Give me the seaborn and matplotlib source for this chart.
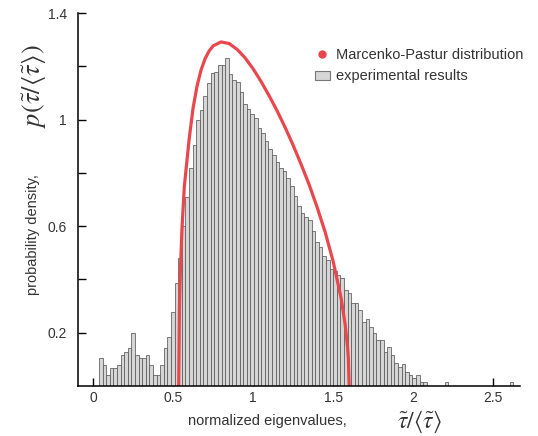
import numpy as np
import pandas as pd
import matplotlib
matplotlib.use('Agg')
import matplotlib.pyplot as plt
import seaborn as sns
from matplotlib.lines import Line2D
from matplotlib.patches import Patch

# histogram bar heights (probability density), one per bin
bin_heights = [
    0.105, 0.079, 0.041, 0.068, 0.068, 0.079, 0.117, 0.128, 0.143, 0.199,
    0.117, 0.105, 0.105, 0.117, 0.079, 0.041, 0.041, 0.079, 0.143, 0.184,
    0.278, 0.387, 0.480, 0.600, 0.710, 0.820, 0.905, 1.000, 1.037, 1.087,
    1.138, 1.177, 1.180, 1.207, 1.207, 1.233, 1.170, 1.150, 1.140, 1.105,
    1.060, 1.040, 1.020, 1.006, 0.970, 0.950, 0.918, 0.890, 0.868, 0.840,
    0.818, 0.806, 0.781, 0.750, 0.712, 0.674, 0.650, 0.636, 0.624, 0.580,
    0.542, 0.523, 0.486, 0.474, 0.440, 0.430, 0.417, 0.406, 0.361, 0.350,
    0.312, 0.312, 0.286, 0.241, 0.252, 0.222, 0.199, 0.173, 0.173, 0.128,
    0.147, 0.117, 0.085, 0.070, 0.083, 0.053, 0.041, 0.030, 0.041, 0.015,
    0.015, 0.0, 0.0, 0.0, 0.0, 0.0, 0.015, 0.0, 0.0, 0.0,
    0.0, 0.0, 0.0, 0.0, 0.0, 0.0, 0.0, 0.0, 0.0, 0.0,
    0.0, 0.0, 0.0, 0.0, 0.015,
]
first_edge = 0.0375
bin_width = 0.0225

# Marcenko-Pastur curve points
mp_x = [0.535, 0.540, 0.545, 0.555, 0.570, 0.600, 0.625, 0.650, 0.675, 0.700,
        0.725, 0.750, 0.800, 0.850, 0.900, 0.950, 1.000, 1.050, 1.100, 1.150,
        1.200, 1.250, 1.300, 1.350, 1.400, 1.450, 1.500, 1.550, 1.575, 1.590,
        1.595, 1.600]
mp_y = [0.000, 0.302, 0.422, 0.584, 0.747, 0.925, 1.044, 1.127, 1.187, 1.229,
        1.258, 1.277, 1.292, 1.286, 1.264, 1.232, 1.191, 1.143, 1.090, 1.033,
        0.971, 0.904, 0.832, 0.756, 0.671, 0.578, 0.468, 0.329, 0.231, 0.146,
        0.103, 0.000]

x_ticks = [0, 0.5, 1, 1.5, 2, 2.5]
x_tick_labels = ['0', '0.5', '1', '1.5', '2', '2.5']
y_ticks = [0.2, 0.4, 0.6, 0.8, 1.0, 1.2, 1.4]
y_tick_labels = ['0.2', '', '0.6', '', '1', '', '1.4']

legend_labels = ['Marcenko-Pastur distribution', 'experimental results']

sns.set_theme(style='ticks')
plt.rcParams['font.family'] = ['Liberation Sans', 'DejaVu Sans']
plt.rcParams['mathtext.fontset'] = 'stix'

RED = '#e8474e'
BAR = '#d6d6d6'
TXT = '#333333'

fig = plt.figure(figsize=(5.38, 4.36), dpi=100)
ax = fig.add_axes([0.145, 0.115, 0.822, 0.856])

n_bins = len(bin_heights)
centers = first_edge + bin_width * (np.arange(n_bins) + 0.5)
df = pd.DataFrame({'value': centers, 'height': bin_heights})
sns.histplot(data=df, x='value', weights='height', binwidth=bin_width,
             binrange=(first_edge, first_edge + bin_width * n_bins),
             color=BAR, edgecolor='#5a5a5a', linewidth=0.55, alpha=1, ax=ax)
sns.lineplot(x=mp_x, y=mp_y, sort=False, color=RED, linewidth=2.3, ax=ax)

ax.set_xlim(-0.094, 2.669)
ax.set_ylim(0, 1.402)
ax.set_xticks(x_ticks)
ax.set_xticklabels(x_tick_labels)
ax.set_yticks(y_ticks)
ax.set_yticklabels(y_tick_labels)
ax.set_xlabel('')
ax.set_ylabel('')
ax.tick_params(direction='in', length=5.5, width=1, color='black',
               labelsize=10, labelcolor=TXT)
ax.tick_params(axis='x', pad=4)
ax.tick_params(axis='y', pad=8)
for s in ['top', 'right']:
    ax.spines[s].set_visible(False)
for s in ['left', 'bottom']:
    ax.spines[s].set_color('black')
    ax.spines[s].set_linewidth(1.1)

handles = [
    Line2D([], [], marker='o', linestyle='none', markerfacecolor=RED,
           markeredgecolor='none', markersize=6, label=legend_labels[0]),
    Patch(facecolor=BAR, edgecolor='#777777', linewidth=0.8, label=legend_labels[1]),
]
fig.legend(handles=handles, loc='upper left', bbox_to_anchor=(315 / 538, 1 - 48 / 436),
           frameon=False, fontsize=10.5, handlelength=1.0, handleheight=0.6,
           handletextpad=0.45, labelspacing=0.5, borderaxespad=0, borderpad=0,
           labelcolor=TXT)

fig.text(188 / 538, 1 - 421 / 436, 'normalized eigenvalues,', ha='left', va='center',
         fontsize=10.5, color=TXT)
fig.text(420 / 538, 1 - 422 / 436, r'$\tilde{\tau}/\langle\tilde{\tau}\rangle$',
         ha='center', va='center', fontsize=17, color=TXT)
fig.text(33 / 538, 1 - 295 / 436, 'probability density,', ha='center', va='bottom',
         rotation=90, fontsize=10.5, color=TXT)
fig.text(33 / 538, 1 - 86 / 436, r'$p\left(\tilde{\tau}/\langle\tilde{\tau}\rangle\right)$',
         ha='center', va='center', rotation=90, fontsize=19, color=TXT)

fig.savefig('out.png', dpi=100)
